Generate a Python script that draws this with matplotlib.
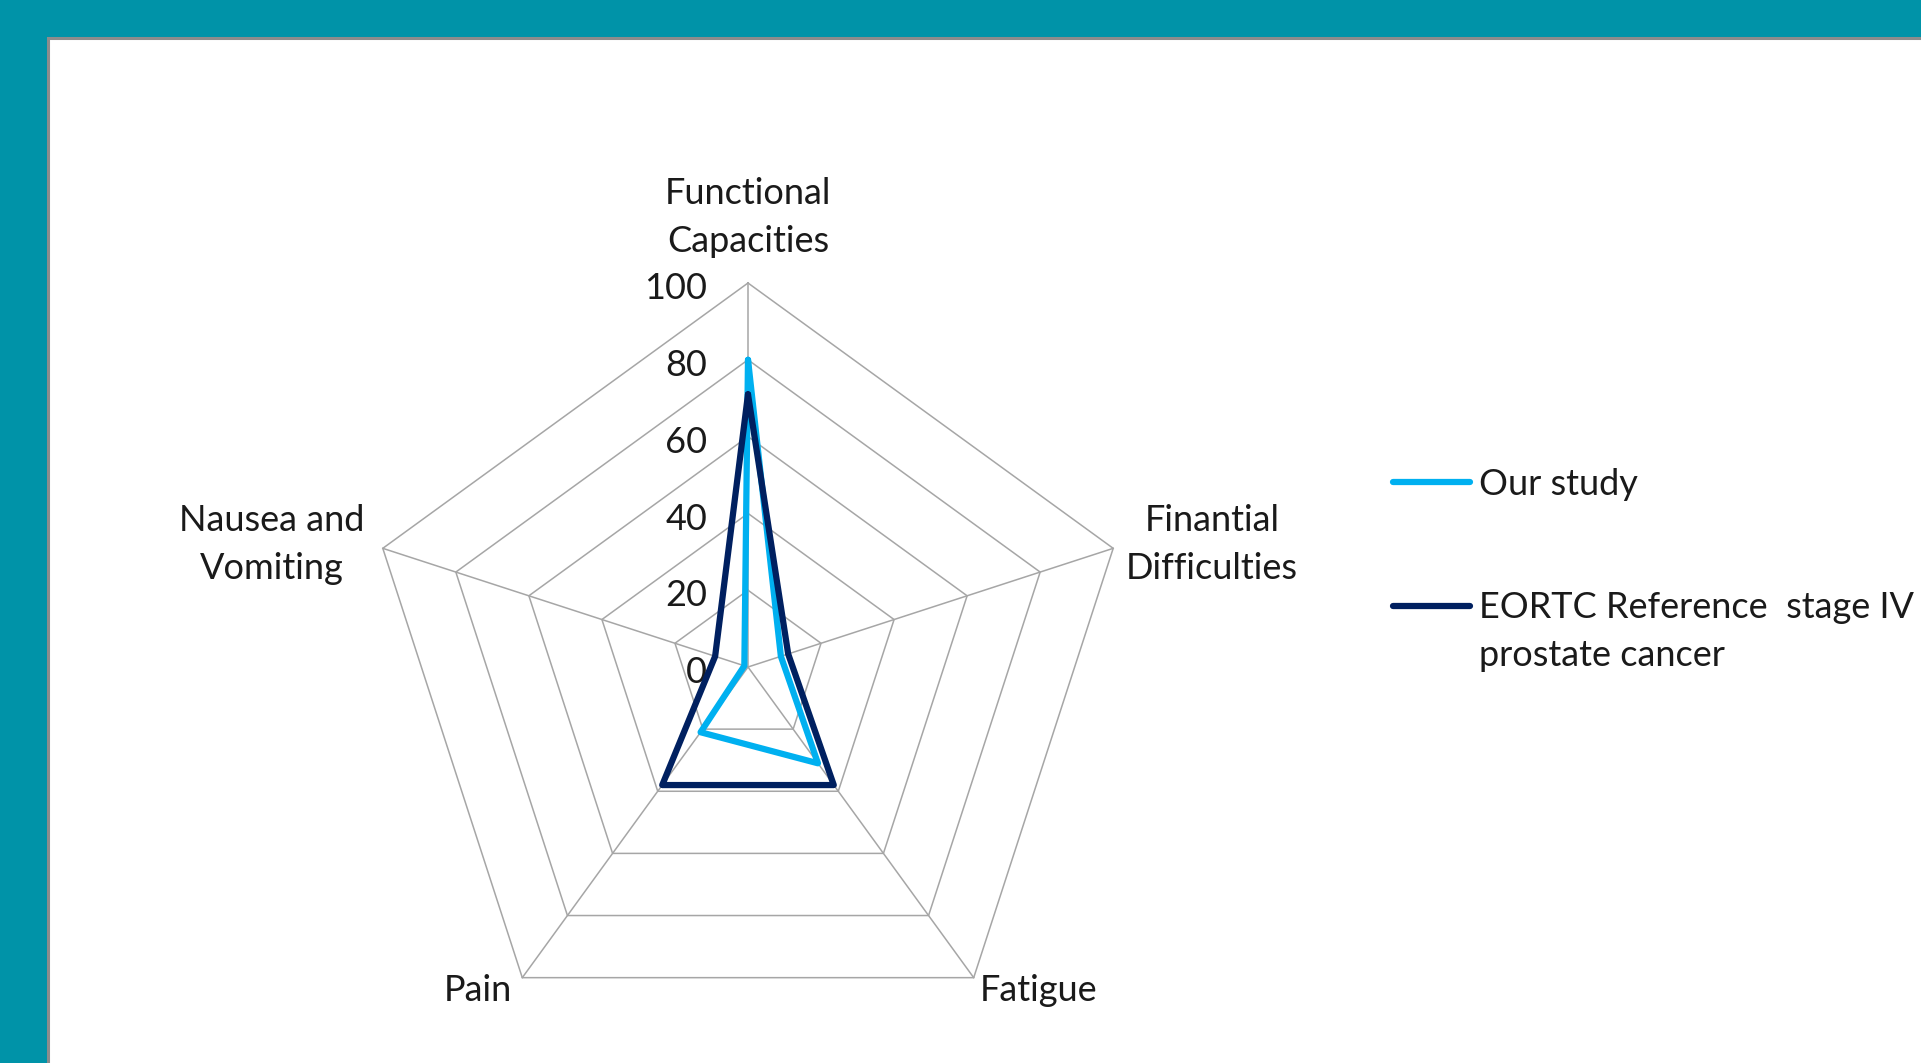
import numpy as np
import matplotlib.pyplot as plt
from matplotlib.patches import Rectangle

# data
categories = ['Functional\nCapacities', 'Finantial\nDifficulties', 'Fatigue',
              'Pain', 'Nausea and\nVomiting']
our_study = [80, 9, 31, 21, 1]
eortc_ref = [71, 11, 38, 38, 9]
ring_values = [0, 20, 40, 60, 80, 100]
series_names = ['Our study', 'EORTC Reference  stage IV']
series_name_2nd_line = 'prostate cancer'

plt.rcParams['font.family'] = ['Lato', 'DejaVu Sans']

W, H = 1921, 1063
fig = plt.figure(figsize=(W / 100, H / 100), dpi=100, facecolor='#0093A8')

# white slide panel
fig.patches.append(Rectangle((48 / W, -0.1), 1.0, (H - 38) / H + 0.1,
                             transform=fig.transFigure, facecolor='white',
                             edgecolor='#8C8C8C', lw=2.2, zorder=-5))

cx, cy, R = 748, 667, 384
ax = fig.add_axes([(cx - R) / W, (H - cy - R) / H, 2 * R / W, 2 * R / H],
                  projection='polar')
ax.set_theta_offset(np.pi / 2)
ax.set_theta_direction(-1)
ax.set_ylim(0, 100)
ax.axis('off')

n = len(categories)
angles = np.linspace(0, 2 * np.pi, n, endpoint=False)
closed = np.append(angles, angles[0])

grid_col = '#A6A6A6'
for v in ring_values[1:]:
    ax.plot(closed, [v] * (n + 1), color=grid_col, lw=1.1, zorder=1, clip_on=False)
for a in angles:
    ax.plot([a, a], [0, 100], color=grid_col, lw=1.1, zorder=1, clip_on=False)

ax.plot(closed, our_study + our_study[:1], color='#00B0F0', lw=4.5,
        solid_joinstyle='round', solid_capstyle='round', zorder=3,
        clip_on=False, label=series_names[0])
ax.plot(closed, eortc_ref + eortc_ref[:1], color='#002060', lw=4.5,
        solid_joinstyle='round', solid_capstyle='round', zorder=4,
        clip_on=False, label=series_names[1])

fs = 26
txt_col = '#1A1A1A'
for v in ring_values:
    ax.annotate(str(v), xy=(0, v), xytext=(-29.5, -2), textcoords='offset points',
                ha='right', va='center_baseline', fontsize=fs, color=txt_col)

label_offsets = [(0, 47), (71, 3), (47, -9), (-32, -9), (-80, 3)]
for a, lab, off in zip(angles, categories, label_offsets):
    ax.annotate(lab, xy=(a, 100), xytext=off, textcoords='offset points',
                ha='center', va='center', fontsize=fs, color=txt_col,
                linespacing=1.55, multialignment='center')

leg = fig.legend(loc='upper left', bbox_to_anchor=(1393 / W, 1 - 468 / H),
                 frameon=False, fontsize=fs, handlelength=2.13,
                 handletextpad=0.25, labelspacing=2.5, borderpad=0,
                 borderaxespad=0)
for t in leg.get_texts():
    t.set_color(txt_col)

# wrapped part of the 2nd legend label, under its first line
fig.canvas.draw()
bb = leg.get_texts()[1].get_window_extent(fig.canvas.get_renderer())
fig.text(bb.x0 / W, (bb.y0 - 42) / H, series_name_2nd_line, fontsize=fs,
         color=txt_col, ha='left', va='baseline')

fig.savefig('out.png', dpi=100, facecolor=fig.get_facecolor())
